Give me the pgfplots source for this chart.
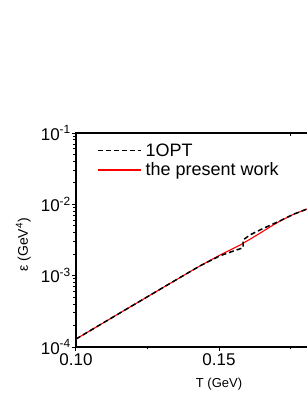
\documentclass[border=0pt]{standalone}
\usepackage{fontspec}
\setmainfont{Liberation Sans}
\usepackage{pgfplots}
\pgfplotsset{compat=1.18}
\begin{document}
\begin{tikzpicture}[x=1pt,y=1pt]
\useasboundingbox (0,0) rectangle (307,397);
\clip (0,0) rectangle (307,397);
\begin{axis}[
  at={(76pt,50pt)}, anchor=south west,
  scale only axis, width=286pt, height=214pt,
  xmin=0.10, xmax=0.20, ymin=1e-4, ymax=1e-1,
  ymode=log,
  xtick={0.10,0.15}, xticklabels={0.10,0.15},
  minor xtick={0.125,0.175},
  ytick={1e-4,1e-3,1e-2,1e-1},
  yticklabels={10\textsuperscript{-4},10\textsuperscript{-3},10\textsuperscript{-2},10\textsuperscript{-1}},
  minor ytick={2e-4,3e-4,4e-4,5e-4,6e-4,7e-4,8e-4,9e-4,2e-3,3e-3,4e-3,5e-3,6e-3,7e-3,8e-3,9e-3,2e-2,3e-2,4e-2,5e-2,6e-2,7e-2,8e-2,9e-2},
  tick align=outside, xtick pos=bottom, ytick pos=left,
  major tick length=4pt, minor tick length=2.5pt,
  tick style={line width=1pt, black},
  axis line style={line width=1.2pt},
  xticklabel style={font=\fontsize{17}{20}\selectfont, inner sep=2pt},
  yticklabel style={font=\fontsize{17}{20}\selectfont, inner sep=1pt},
  xlabel={T (GeV)},
  xlabel style={font=\fontsize{13}{15}\selectfont, at={(axis description cs:0.5,-0.187)}, anchor=base},
  ylabel={ε (GeV\textsuperscript{4})},
  ylabel style={font=\fontsize{14}{16}\selectfont, at={(axis description cs:-0.168,0.477)}, anchor=base},
  legend style={at={(axis description cs:0.075,0.963)}, anchor=north west, draw=none, fill=none, inner sep=0pt, font=\fontsize{18}{21}\selectfont, cells={anchor=west}, nodes={inner sep=2.5pt}, column sep=1pt},
  legend image code/.code={\draw[#1] (0pt,0pt) -- (43pt,0pt);},
]
\addplot[red, line width=1.1pt, forget plot] coordinates {
(0.1000,1.294e-4) (0.1192,3.698e-4) (0.1385,1.057e-3) (0.1434,1.374e-3)
(0.1503,1.941e-3) (0.1573,2.679e-3) (0.1608,3.236e-3) (0.1643,3.936e-3)
(0.1678,4.808e-3) (0.1713,5.821e-3) (0.1760,7.244e-3) (0.1810,8.670e-3)
};
\addplot[black, line width=1.5pt, dash pattern=on 5pt off 3pt] coordinates {
(0.1000,1.294e-4) (0.1192,3.698e-4) (0.1385,1.057e-3) (0.1434,1.374e-3)
(0.1503,1.897e-3) (0.1545,2.178e-3) (0.1584,2.455e-3) (0.1584,3.162e-3)
(0.1608,3.715e-3) (0.1643,4.365e-3) (0.1678,5.070e-3) (0.1713,5.861e-3)
(0.1760,7.244e-3) (0.1810,8.670e-3)
};
\addlegendentry{1OPT}
\addlegendimage{red, line width=1.1pt}
\addlegendentry{the present work}
\end{axis}
\begin{axis}[
  at={(76pt,50pt)}, anchor=south west,
  scale only axis, width=286pt, height=214pt,
  xmin=0.10, xmax=0.20, ymin=0, ymax=1,
  axis line style={draw=none},
  xtick={0.175}, xticklabels={}, ytick=\empty,
  xtick pos=top, tick align=inside, major tick length=3pt,
  tick style={line width=1pt, black},
]
\end{axis}
\end{tikzpicture}
\end{document}
